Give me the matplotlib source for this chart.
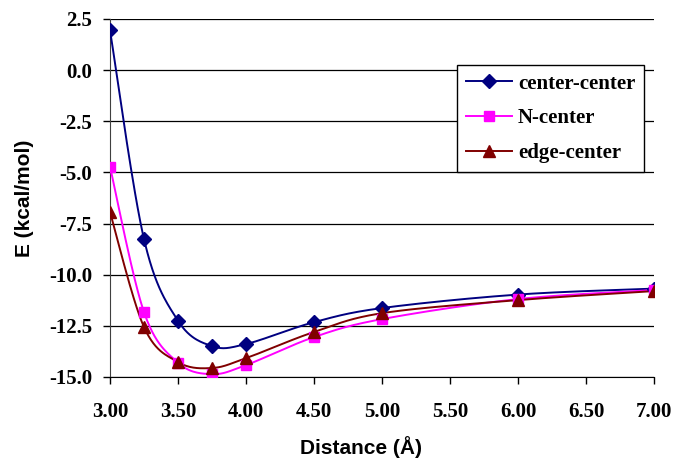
import numpy as np
import matplotlib
matplotlib.use("Agg")
import matplotlib.pyplot as plt
from matplotlib.lines import Line2D

distance = [3.00, 3.25, 3.50, 3.75, 4.00, 4.50, 5.00, 6.00, 7.00]
center_center = [1.95, -8.26, -12.25, -13.49, -13.39, -12.32, -11.63, -10.97, -10.68]
n_center = [-4.72, -11.83, -14.30, -14.86, -14.42, -13.05, -12.17, -11.19, -10.75]
edge_center = [-6.94, -12.56, -14.27, -14.56, -14.08, -12.80, -11.88, -11.24, -10.80]

series_names = ["center-center", "N-center", "edge-center"]
x_ticks = [3.0, 3.5, 4.0, 4.5, 5.0, 5.5, 6.0, 6.5, 7.0]
y_ticks = [2.5, 0.0, -2.5, -5.0, -7.5, -10.0, -12.5, -15.0]


def smooth(xs, ys, n=30):
    pts = np.column_stack([xs, ys]).astype(float)
    out = []
    m = len(pts)
    for i in range(m - 1):
        p0 = pts[i - 1] if i > 0 else pts[i]
        p1 = pts[i]
        p2 = pts[i + 1]
        p3 = pts[i + 2] if i + 2 < m else pts[i + 1]
        c1 = p1 + (p2 - p0) / 6.0
        c2 = p2 - (p3 - p1) / 6.0
        t = np.linspace(0, 1, n)[:, None]
        seg = ((1 - t) ** 3) * p1 + 3 * ((1 - t) ** 2) * t * c1 + 3 * (1 - t) * t ** 2 * c2 + t ** 3 * p2
        out.append(seg if i == 0 else seg[1:])
    s = np.vstack(out)
    return s[:, 0], s[:, 1]


fig = plt.figure(figsize=(6.78, 4.58), dpi=100)
ax = fig.add_axes([110 / 678, 1 - 377 / 458, 544 / 678, 358 / 458])

tick_font = dict(family="Liberation Serif", weight="bold", size=15)
label_font = dict(family="Liberation Sans", weight="bold", size=15)

for yv in y_ticks:
    ax.axhline(yv, color="#000000", lw=0.9, zorder=1)

styles = [
    (center_center, "#000080", "D", 7.5),
    (n_center, "#FF00FF", "s", 6.8),
    (edge_center, "#800000", "^", 8.5),
]
handles = []
for (vals, col, mk, ms), name in zip(styles, series_names):
    sx, sy = smooth(distance, vals)
    ax.plot(sx, sy, color=col, lw=1.4, zorder=3)
    ax.plot(distance, vals, linestyle="none", marker=mk, color=col, ms=ms, zorder=4)
    handles.append(Line2D([], [], color=col, lw=1.4, marker=mk, ms=ms, label=name))

ax.set_xlim(3.0, 7.0)
ax.set_ylim(-15.0, 2.5)
ax.set_xticks(x_ticks)
ax.set_yticks(y_ticks)
ax.set_xticklabels([f"{v:.2f}" for v in x_ticks], **tick_font)
ax.set_yticklabels([f"{v:.1f}" for v in y_ticks], **tick_font)
ax.tick_params(axis="both", direction="out", length=5, width=1, color="black")
ax.tick_params(axis="x", pad=13)
ax.tick_params(axis="y", pad=8)

for s in ["top", "right"]:
    ax.spines[s].set_visible(False)
ax.spines["left"].set_color("#404040")
ax.spines["bottom"].set_color("black")

ax.set_xlabel("Distance (Å)", **label_font)
ax.set_ylabel("E (kcal/mol)", **label_font)
ax.xaxis.set_label_coords((361.5 - 110) / 544, (377 - 436) / 358)
ax.yaxis.set_label_coords((34 - 110) / 544, 0.5)

leg = ax.legend(handles=handles, loc="upper left", bbox_to_anchor=((457 - 110) / 544, (377 - 65) / 358),
                borderaxespad=0,
                frameon=True, fancybox=False, edgecolor="black", framealpha=1,
                prop=dict(family="Liberation Serif", weight="bold", size=15),
                handlelength=2.2, borderpad=0.42, labelspacing=0.7, handletextpad=0.3)
leg.get_frame().set_linewidth(1.0)
leg.set_zorder(5)

fig.savefig("out.png", dpi=100)
